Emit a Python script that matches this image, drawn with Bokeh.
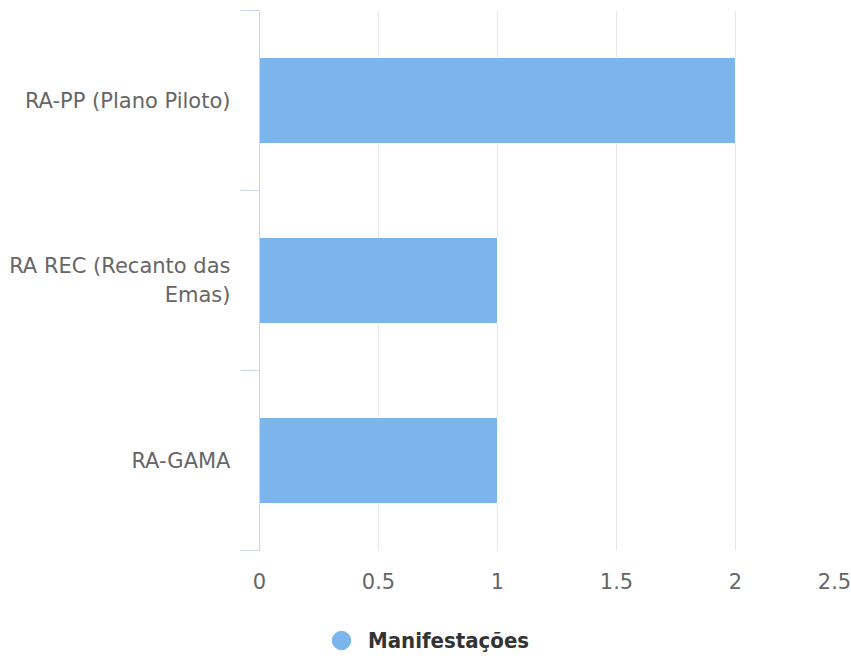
from bokeh.plotting import figure
from bokeh.layouts import column
from bokeh.models import Range1d, FixedTicker, Legend, LegendItem, ColumnDataSource
from bokeh.embed import file_html
from bokeh.resources import INLINE

categories = ["RA-PP (Plano Piloto)", "RA REC (Recanto das\nEmas)", "RA-GAMA"]
values = [2, 1, 1]
series_name = "Manifestações"
x_ticks = [0, 0.5, 1, 1.5, 2]
last_tick = 2.5

FONT = "DejaVu Sans"
LEGEND_FONT = "'DejaVu Sans Condensed', 'Liberation Sans'"
BAR = "#7cb5ec"

W = 851
H_MAIN, H_LEG = 600, 63
LEFT, TOP, BOTTOM = 259, 10, 550
PX_PER_UNIT = 238.0
x_end = (W - LEFT) / PX_PER_UNIT

# the last tick label is pushed inside the chart edge (justified), as in the original
label_half = 17 / PX_PER_UNIT
last_pos = x_end - label_half

pos = [i + 0.5 for i in range(len(categories))]
src = ColumnDataSource(dict(y=pos, right=values))

p = figure(width=W, height=H_MAIN, output_backend="svg", toolbar_location=None,
           x_range=Range1d(0, x_end), y_range=Range1d(len(categories), 0),
           min_border_left=LEFT, min_border_right=0, min_border_top=TOP,
           min_border_bottom=H_MAIN - BOTTOM)
p.outline_line_color = None

p.hbar(y="y", right="right", left=0, height=0.478, source=src,
       fill_color=BAR, line_color="white", line_width=1)

# x axis
p.xaxis.ticker = FixedTicker(ticks=x_ticks + [last_pos])
p.xaxis.major_label_overrides = {last_pos: str(last_tick)}
p.xaxis.axis_line_color = None
p.xaxis.major_tick_line_color = None
p.xaxis.minor_tick_line_color = None
p.xaxis.major_label_text_font = FONT
p.xaxis.major_label_text_font_size = "21px"
p.xaxis.major_label_text_color = "#666666"
p.xaxis.major_label_standoff = 16
p.xgrid.ticker = FixedTicker(ticks=x_ticks)
p.xgrid.grid_line_color = "#e6e6e6"
p.xgrid.grid_line_width = 1

# y axis
p.yaxis.ticker = FixedTicker(ticks=pos, minor_ticks=list(range(len(categories) + 1)))
p.yaxis.major_label_overrides = {pv: c for pv, c in zip(pos, categories)}
p.yaxis.axis_line_color = "#ccd6eb"
p.yaxis.axis_line_width = 1
p.yaxis.major_tick_line_color = None
p.yaxis.major_tick_out = 0
p.yaxis.major_tick_in = 0
p.yaxis.minor_tick_line_color = "#ccd6eb"
p.yaxis.minor_tick_out = 19
p.yaxis.minor_tick_in = 0
p.yaxis.major_label_text_font = FONT
p.yaxis.major_label_text_font_size = "21px"
p.yaxis.major_label_text_color = "#666666"
p.yaxis.major_label_standoff = 10
p.ygrid.grid_line_color = None

# legend strip below the chart (its frame is aligned with the chart's frame)
q = figure(width=W, height=H_LEG, output_backend="svg", toolbar_location=None,
           x_range=Range1d(0, 1), y_range=Range1d(0, 1),
           min_border_left=0, min_border_right=0, min_border_top=0, min_border_bottom=0)
q.outline_line_color = None
q.axis.visible = False
q.grid.visible = False
dummy = q.scatter(x=[-10], y=[-10], marker="circle", size=20, fill_color=BAR, line_color=BAR)
legend = Legend(items=[LegendItem(label=series_name, renderers=[dummy])],
                location=(59, 0), orientation="horizontal",
                label_text_font=LEGEND_FONT, label_text_font_size="22px",
                label_text_font_style="bold", label_text_color="#333333",
                background_fill_alpha=0, border_line_color=None,
                padding=0, margin=0, glyph_width=46, glyph_height=46, label_standoff=4,
                label_height=26)
q.add_layout(legend, "center")

open("out.html", "w").write(file_html(column(p, q, spacing=0), INLINE))
